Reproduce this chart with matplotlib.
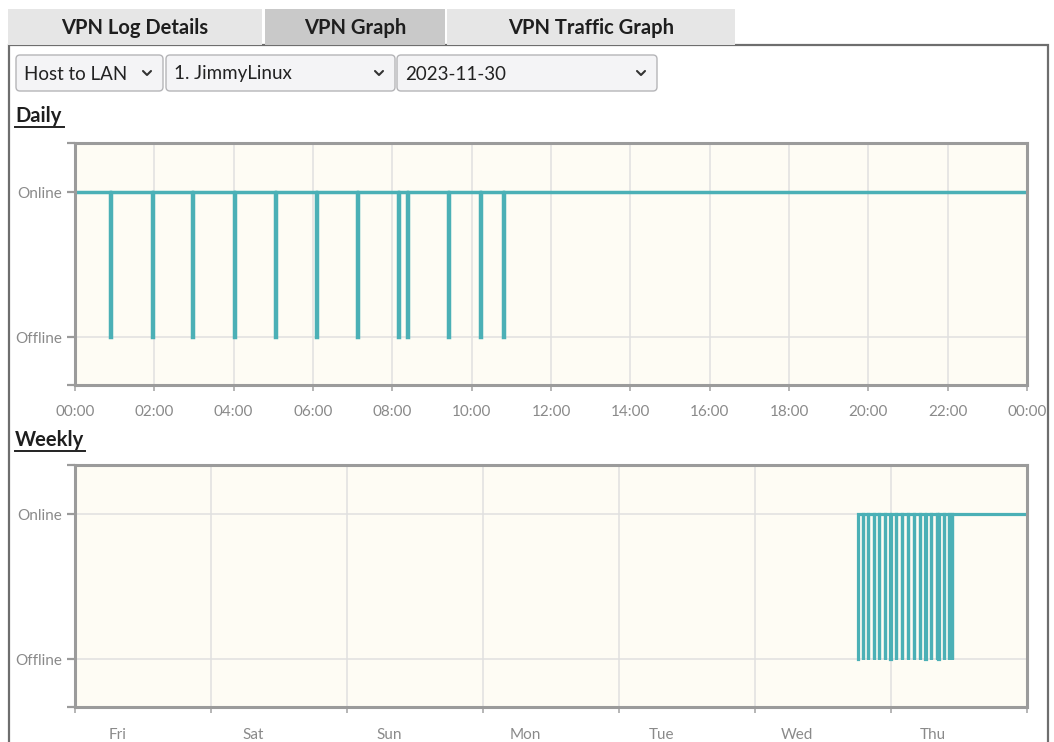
import matplotlib
matplotlib.use("Agg")
import matplotlib.pyplot as plt
from matplotlib.patches import Rectangle, FancyBboxPatch

plt.rcParams['font.family'] = ['Lato', 'DejaVu Sans']

# tabs and selectors of the page
tab_names = ['VPN Log Details', 'VPN Graph', 'VPN Traffic Graph']
selectors = ['Host to LAN', '1. JimmyLinux', '2023-11-30']

# daily view: hours (of 2023-11-30) when the tunnel dropped to offline
daily_ticks = [0, 2, 4, 6, 8, 10, 12, 14, 16, 18, 20, 22, 24]
daily_labels = ['00:00', '02:00', '04:00', '06:00', '08:00', '10:00', '12:00',
                '14:00', '16:00', '18:00', '20:00', '22:00', '00:00']
daily_drops = [0.89, 1.93, 2.95, 4.00, 5.04, 6.07, 7.10, 8.15, 8.38, 9.40, 10.20, 10.80]
drop_len = 0.025  # hours spent offline per drop

# weekly view: days starting Friday, first record on Wednesday evening
week_days = ['Fri', 'Sat', 'Sun', 'Mon', 'Tue', 'Wed', 'Thu']
week_start = 5 + 18.2 / 24
wed_drops = [19.05, 20.0, 20.95, 21.9, 22.9, 23.9]

LINE = '#4bb0b6'
W, H = 1054, 742


def step_series(start, end, drops, width):
    xs, ys = [start], [1]
    for t in drops:
        xs += [t, t, t + width, t + width]
        ys += [1, 0, 0, 1]
    xs.append(end)
    ys.append(1)
    return xs, ys


fig = plt.figure(figsize=(W / 100, H / 100), dpi=100)

page = fig.add_axes([0, 0, 1, 1])
page.set_xlim(0, W)
page.set_ylim(H, 0)
page.axis('off')

# content frame and tabs
page.add_patch(Rectangle((9, 45), 1039, 720, fc='white', ec='#6e6e6e', lw=1.6))
tab_boxes = [(8, 254, '#e6e6e6'), (265, 180, '#c9c9c9'), (447, 288, '#e6e6e6')]
for (x, w, c), name in zip(tab_boxes, tab_names):
    page.add_patch(Rectangle((x, 9), w, 35.5, fc=c, ec='none'))
    page.text(x + w / 2, 28, name, ha='center', va='center', fontsize=14.5,
              fontweight='bold', color='#1e1e1e')

# drop-down selectors
sel_boxes = [(16, 163), (166, 395), (397, 657)]
for (x0, x1), label in zip(sel_boxes, selectors):
    page.add_patch(FancyBboxPatch((x0, 55), x1 - x0, 36,
                                  boxstyle='round,pad=0,rounding_size=4',
                                  fc='#f4f4f6', ec='#b5b5b8', lw=1.0))
    page.text(x0 + 8, 74, label, ha='left', va='center', fontsize=13.5, color='#222222')
    cx = x1 - 16
    page.plot([cx - 4, cx, cx + 4], [71, 75, 71], color='#333333', lw=1.5,
              solid_capstyle='round', solid_joinstyle='round')

# section headings
for y, title, w in [(116, 'Daily', 49), (440, 'Weekly', 70)]:
    page.text(15, y, title, ha='left', va='center', fontsize=14.5,
              fontweight='bold', color='#1e1e1e')
    page.plot([15, 15 + w], [y + 11, y + 11], color='#222222', lw=1.4)


def px_axes(l, t, r, b):
    return fig.add_axes([l / W, 1 - b / H, (r - l) / W, (b - t) / H])


def style(ax):
    ax.set_facecolor('#fefcf4')
    for s in ax.spines.values():
        s.set_color('#9b9b9b')
        s.set_linewidth(2.2)
    ax.set_ylim(-0.33, 1.338)
    ax.set_yticks([0, 1])
    ax.set_yticklabels(['Offline', 'Online'])
    ax.set_yticks([-0.33, 1.338], minor=True)
    ax.tick_params(axis='y', which='both', length=6, width=1.6, color='#9b9b9b',
                   pad=3, labelsize=11, labelcolor='#8a8a8a')
    ax.tick_params(axis='x', which='both', length=4.5, width=1.4, color='#b5b5b5',
                   pad=10, labelsize=11, labelcolor='#8a8a8a')
    ax.tick_params(top=False, right=False)
    ax.grid(True, which='major', color='#e0e0e0', lw=1.1)
    ax.set_axisbelow(True)


# daily chart
ax1 = px_axes(75, 143, 1027, 385)
style(ax1)
dx, dy = step_series(0, 24, daily_drops, drop_len)
ax1.plot(dx, dy, color=LINE, lw=2.5, solid_joinstyle='miter')
ax1.set_xlim(0, 24)
ax1.set_xticks(daily_ticks)
ax1.set_xticklabels(daily_labels)

# weekly chart
ax2 = px_axes(75, 465, 1027, 707)
style(ax2)
week_drops = [5 + h / 24 for h in wed_drops] + [6 + h / 24 for h in daily_drops]
wx, wy = step_series(week_start, 7, week_drops, drop_len / 24)
wx = [week_start] + wx
wy = [0] + wy
ax2.plot(wx, wy, color=LINE, lw=2.3, solid_joinstyle='miter')
ax2.set_xlim(0, 7)
ax2.set_xticks(range(8))
ax2.set_xticklabels([''] * 8)
ax2.set_xticks([i + 0.31 for i in range(7)], minor=True)
ax2.set_xticklabels(week_days, minor=True)
ax2.tick_params(axis='x', which='minor', length=0, pad=15)

fig.savefig('out.png', dpi=100)
